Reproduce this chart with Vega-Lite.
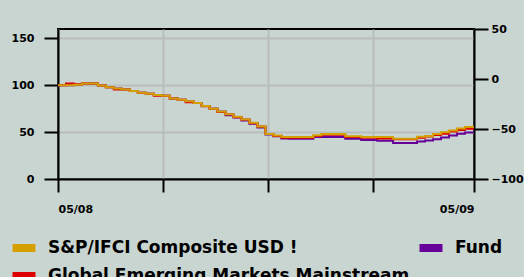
{
  "$schema": "https://vega.github.io/schema/vega-lite/v6.json",
  "width": 416,
  "height": 150,
  "autosize": {"type": "none"},
  "padding": {"left": 58, "top": 29, "right": 50, "bottom": 98},
  "background": "#c9d5d0",
  "config": {
    "view": {"stroke": "black", "strokeWidth": 2, "fill": null},
    "axis": {
      "title": null,
      "domainColor": "black",
      "domainWidth": 2,
      "tickColor": "black",
      "tickWidth": 2,
      "labelFont": "DejaVu Sans",
      "labelFontWeight": "bold",
      "labelFontSize": 11,
      "labelColor": "black",
      "gridColor": "#b9bdbd",
      "gridWidth": 2
    },
    "legend": {
      "orient": "none",
      "legendX": -44,
      "legendY": 209,
      "direction": "horizontal",
      "columns": 2,
      "columnPadding": -7,
      "rowPadding": -4,
      "padding": 0,
      "symbolType": "M-2,0H2",
      "symbolSize": 132,
      "symbolStrokeWidth": 8,
      "labelFont": "DejaVu Sans",
      "labelFontWeight": "bold",
      "labelFontSize": 17,
      "labelColor": "black",
      "labelOffset": 14,
      "labelLimit": 600,
      "title": null
    }
  },
  "datasets": {
    "fund": [
      {"d": "2008-05-01", "v": 100}, {"d": "2008-05-08", "v": 100}, {"d": "2008-05-15", "v": 100.5}, {"d": "2008-05-22", "v": 102}, {"d": "2008-05-29", "v": 102},
      {"d": "2008-06-05", "v": 99.7}, {"d": "2008-06-12", "v": 98}, {"d": "2008-06-19", "v": 96.5}, {"d": "2008-06-26", "v": 95.5}, {"d": "2008-07-03", "v": 94},
      {"d": "2008-07-10", "v": 92}, {"d": "2008-07-17", "v": 91}, {"d": "2008-07-24", "v": 89.7}, {"d": "2008-07-31", "v": 88.7}, {"d": "2008-08-07", "v": 86},
      {"d": "2008-08-14", "v": 84.5}, {"d": "2008-08-21", "v": 83}, {"d": "2008-08-28", "v": 81}, {"d": "2008-09-04", "v": 78}, {"d": "2008-09-11", "v": 75},
      {"d": "2008-09-18", "v": 72}, {"d": "2008-09-25", "v": 68}, {"d": "2008-10-02", "v": 65.5}, {"d": "2008-10-09", "v": 62.5}, {"d": "2008-10-16", "v": 59},
      {"d": "2008-10-23", "v": 55}, {"d": "2008-10-30", "v": 47.5}, {"d": "2008-11-06", "v": 45.7}, {"d": "2008-11-13", "v": 43.3}, {"d": "2008-11-20", "v": 43},
      {"d": "2008-11-27", "v": 43}, {"d": "2008-12-04", "v": 43}, {"d": "2008-12-11", "v": 44.7}, {"d": "2008-12-18", "v": 44.7}, {"d": "2008-12-25", "v": 44.7},
      {"d": "2009-01-01", "v": 44.7}, {"d": "2009-01-08", "v": 43}, {"d": "2009-01-15", "v": 43}, {"d": "2009-01-22", "v": 41.7}, {"d": "2009-01-29", "v": 41.7},
      {"d": "2009-02-05", "v": 40.7}, {"d": "2009-02-12", "v": 40.7}, {"d": "2009-02-19", "v": 38.3}, {"d": "2009-02-26", "v": 38.3}, {"d": "2009-03-05", "v": 38.3},
      {"d": "2009-03-12", "v": 40}, {"d": "2009-03-19", "v": 41}, {"d": "2009-03-26", "v": 42.3}, {"d": "2009-04-02", "v": 44.3}, {"d": "2009-04-09", "v": 46.3},
      {"d": "2009-04-16", "v": 48.3}, {"d": "2009-04-23", "v": 49.5}, {"d": "2009-04-30", "v": 50.7}
    ],
    "gem": [
      {"d": "2008-05-01", "v": 100}, {"d": "2008-05-08", "v": 102}, {"d": "2008-05-15", "v": 101}, {"d": "2008-05-22", "v": 102}, {"d": "2008-05-29", "v": 102},
      {"d": "2008-06-05", "v": 99.7}, {"d": "2008-06-12", "v": 98}, {"d": "2008-06-19", "v": 95.5}, {"d": "2008-06-26", "v": 95.5}, {"d": "2008-07-03", "v": 94},
      {"d": "2008-07-10", "v": 92}, {"d": "2008-07-17", "v": 91}, {"d": "2008-07-24", "v": 88.7}, {"d": "2008-07-31", "v": 88.7}, {"d": "2008-08-07", "v": 86},
      {"d": "2008-08-14", "v": 84.5}, {"d": "2008-08-21", "v": 82}, {"d": "2008-08-28", "v": 81}, {"d": "2008-09-04", "v": 77.5}, {"d": "2008-09-11", "v": 75},
      {"d": "2008-09-18", "v": 71.5}, {"d": "2008-09-25", "v": 69}, {"d": "2008-10-02", "v": 66}, {"d": "2008-10-09", "v": 63.5}, {"d": "2008-10-16", "v": 59.5},
      {"d": "2008-10-23", "v": 56}, {"d": "2008-10-30", "v": 48}, {"d": "2008-11-06", "v": 46}, {"d": "2008-11-13", "v": 44}, {"d": "2008-11-20", "v": 44},
      {"d": "2008-11-27", "v": 44}, {"d": "2008-12-04", "v": 44}, {"d": "2008-12-11", "v": 46}, {"d": "2008-12-18", "v": 47.3}, {"d": "2008-12-25", "v": 47.3},
      {"d": "2009-01-01", "v": 47.3}, {"d": "2009-01-08", "v": 44.7}, {"d": "2009-01-15", "v": 44.7}, {"d": "2009-01-22", "v": 44}, {"d": "2009-01-29", "v": 44},
      {"d": "2009-02-05", "v": 43.3}, {"d": "2009-02-12", "v": 43.3}, {"d": "2009-02-19", "v": 42.5}, {"d": "2009-02-26", "v": 42.5}, {"d": "2009-03-05", "v": 42.5},
      {"d": "2009-03-12", "v": 44}, {"d": "2009-03-19", "v": 45.3}, {"d": "2009-03-26", "v": 47}, {"d": "2009-04-02", "v": 48.3}, {"d": "2009-04-09", "v": 50.7},
      {"d": "2009-04-16", "v": 52.3}, {"d": "2009-04-23", "v": 53.7}, {"d": "2009-04-30", "v": 54.7}
    ],
    "ifci": [
      {"d": "2008-05-01", "v": 100}, {"d": "2008-05-08", "v": 100}, {"d": "2008-05-15", "v": 100.5}, {"d": "2008-05-22", "v": 102}, {"d": "2008-05-29", "v": 102},
      {"d": "2008-06-05", "v": 99.7}, {"d": "2008-06-12", "v": 98}, {"d": "2008-06-19", "v": 96.5}, {"d": "2008-06-26", "v": 95.5}, {"d": "2008-07-03", "v": 94},
      {"d": "2008-07-10", "v": 92}, {"d": "2008-07-17", "v": 91}, {"d": "2008-07-24", "v": 89.7}, {"d": "2008-07-31", "v": 88.7}, {"d": "2008-08-07", "v": 86},
      {"d": "2008-08-14", "v": 84.5}, {"d": "2008-08-21", "v": 83}, {"d": "2008-08-28", "v": 81}, {"d": "2008-09-04", "v": 78}, {"d": "2008-09-11", "v": 75},
      {"d": "2008-09-18", "v": 72}, {"d": "2008-09-25", "v": 69}, {"d": "2008-10-02", "v": 66.5}, {"d": "2008-10-09", "v": 63.5}, {"d": "2008-10-16", "v": 60},
      {"d": "2008-10-23", "v": 56}, {"d": "2008-10-30", "v": 48}, {"d": "2008-11-06", "v": 46.3}, {"d": "2008-11-13", "v": 44.7}, {"d": "2008-11-20", "v": 44.7},
      {"d": "2008-11-27", "v": 44.7}, {"d": "2008-12-04", "v": 44.7}, {"d": "2008-12-11", "v": 46.7}, {"d": "2008-12-18", "v": 48}, {"d": "2008-12-25", "v": 48},
      {"d": "2009-01-01", "v": 48}, {"d": "2009-01-08", "v": 45.7}, {"d": "2009-01-15", "v": 45.7}, {"d": "2009-01-22", "v": 44.7}, {"d": "2009-01-29", "v": 44.7},
      {"d": "2009-02-05", "v": 44.7}, {"d": "2009-02-12", "v": 44.7}, {"d": "2009-02-19", "v": 43}, {"d": "2009-02-26", "v": 43}, {"d": "2009-03-05", "v": 43},
      {"d": "2009-03-12", "v": 45}, {"d": "2009-03-19", "v": 46}, {"d": "2009-03-26", "v": 48}, {"d": "2009-04-02", "v": 50}, {"d": "2009-04-09", "v": 51.7},
      {"d": "2009-04-16", "v": 54}, {"d": "2009-04-23", "v": 55.5}, {"d": "2009-04-30", "v": 56.7}
    ]
  },
  "layer": [
    {
      "layer": [
        {
          "data": {"name": "fund"},
          "mark": {"type": "line", "interpolate": "step-after", "strokeWidth": 2},
          "encoding": {
            "x": {
              "field": "d", "type": "temporal",
              "scale": {"domain": [{"year": 2008, "month": 5, "date": 1}, {"year": 2009, "month": 5, "date": 1}]},
              "axis": {
                "values": [{"year": 2008, "month": 5, "date": 1}, {"year": 2008, "month": 8, "date": 1}, {"year": 2008, "month": 11, "date": 1}, {"year": 2009, "month": 2, "date": 1}, {"year": 2009, "month": 5, "date": 1}],
                "format": "%m/%y",
                "labelExpr": "month(datum.value) == 4 ? timeFormat(datum.value, '%m/%y') : ''",
                "tickSize": 13,
                "labelPadding": 11,
                "grid": true
              }
            },
            "y": {
              "field": "v", "type": "quantitative",
              "scale": {"domain": [0, 150]},
              "axis": {"values": [0, 50, 100, 150], "tickSize": 14, "labelPadding": 10, "grid": true}
            },
            "color": {
              "datum": "Fund",
              "scale": {
                "domain": ["S&P/IFCI Composite USD !", "Fund", "Global Emerging Markets Mainstream"],
                "range": ["#d4a000", "#660099", "#dd0000"]
              }
            }
          }
        },
        {
          "data": {"name": "gem"},
          "mark": {"type": "line", "interpolate": "step-after", "strokeWidth": 2},
          "encoding": {
            "x": {"field": "d", "type": "temporal"},
            "y": {"field": "v", "type": "quantitative"},
            "color": {"datum": "Global Emerging Markets Mainstream"}
          }
        },
        {
          "data": {"name": "ifci"},
          "mark": {"type": "line", "interpolate": "step-after", "strokeWidth": 2},
          "encoding": {
            "x": {"field": "d", "type": "temporal"},
            "y": {"field": "v", "type": "quantitative"},
            "color": {"datum": "S&P/IFCI Composite USD !"}
          }
        }
      ]
    },
    {
      "data": {"values": [{}]},
      "mark": {"type": "rule", "opacity": 0},
      "encoding": {
        "y": {
          "datum": 0, "type": "quantitative",
          "scale": {"domain": [-100, 50]},
          "axis": {"orient": "right", "values": [-100, -50, 0, 50], "tickSize": 14, "labelPadding": 3, "grid": false}
        }
      }
    }
  ],
  "resolve": {"scale": {"y": "independent"}}
}
